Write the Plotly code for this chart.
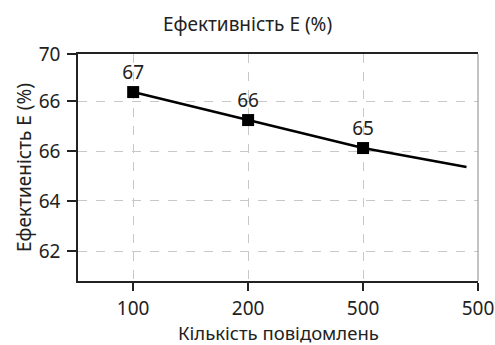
import plotly.graph_objects as go

# Message counts (categorical positions) and efficiency values
x_labels = ["100", "200", "500", "500"]
x_pos = [0, 1, 2, 3]
efficiency = [67, 66, 65]
point_labels = ["67", "66", "65"]

# Trend line: passes through the measured points and continues to the right
trend_x = [0, 1, 2, 2.9]
trend_y = [67, 66, 65, 64.32]

# Y-axis ticks (positions in data units) and their printed labels
y_tickvals = [61.32, 63.11, 64.89, 66.68, 68.36]
y_ticktext = ["62", "64", "66", "66", "70"]

FONT = "Noto Sans"
TEXT = "#222"

fig = go.Figure()

fig.add_trace(go.Scatter(
    x=trend_x, y=trend_y, mode="lines",
    line=dict(color="black", width=2.5),
    hoverinfo="skip", showlegend=False,
))

fig.add_trace(go.Scatter(
    x=x_pos[:len(efficiency)], y=efficiency, mode="markers+text",
    marker=dict(symbol="square", size=12, color="black"),
    text=point_labels, textposition="top center",
    textfont=dict(family=FONT, size=19, color=TEXT),
    showlegend=False,
))

fig.update_layout(
    width=495, height=345,
    margin=dict(l=78, r=17, t=54, b=64),
    paper_bgcolor="white", plot_bgcolor="white",
    font=dict(family=FONT, size=19, color=TEXT),
    title=dict(text="Ефективність E (%)", x=0.5, xanchor="center",
               y=0.93, yanchor="middle", font=dict(size=19)),
    # thin grey frame line on the right-hand side
    shapes=[dict(type="line", xref="paper", yref="paper",
                 x0=1, x1=1, y0=0, y1=1,
                 line=dict(color="#888", width=1))],
    # x-axis title placed below the tick labels
    annotations=[dict(text="Кількість повідомлень", xref="paper", yref="paper",
                      x=0.5, y=-0.229, xanchor="center", yanchor="middle",
                      showarrow=False, font=dict(size=18.5, color=TEXT))],
)

fig.update_xaxes(
    range=[-0.48, 3.0], tickvals=x_pos, ticktext=x_labels,
    ticks="outside", ticklen=8, tickwidth=1.5, tickcolor=TEXT,
    showline=True, linecolor=TEXT, linewidth=1.5, mirror=True,
    showgrid=True, gridcolor="#c8c8c8", griddash="dash", gridwidth=1,
    zeroline=False, automargin=False, ticklabelstandoff=1,
    tickfont=dict(size=19),
)

fig.update_yaxes(
    range=[60.25, 68.36], tickvals=y_tickvals, ticktext=y_ticktext,
    ticks="outside", ticklen=9, tickwidth=1.5, tickcolor=TEXT,
    showline=True, linecolor=TEXT, linewidth=1.5, mirror=False,
    showgrid=True, gridcolor="#c8c8c8", griddash="dash", gridwidth=1,
    zeroline=False, ticklabelstandoff=3, automargin=False,
    title=dict(text="Ефектиеність E (%)", standoff=2, font=dict(size=19)),
    tickfont=dict(size=19),
)

fig.write_html("out.html")
